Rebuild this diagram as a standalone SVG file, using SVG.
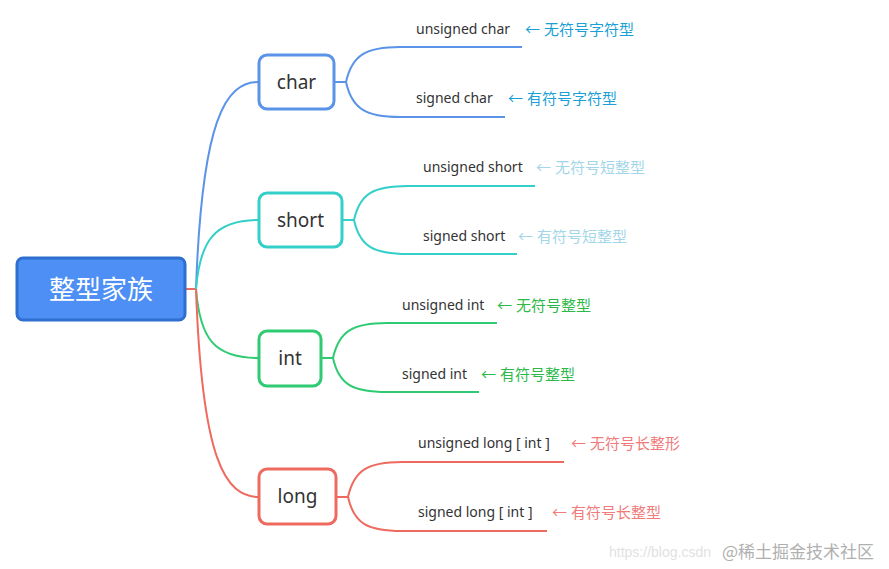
<svg xmlns="http://www.w3.org/2000/svg" width="889" height="569" viewBox="0 0 889 569">
<style>
.node{fill:#fff;stroke-width:3}
.lbl{font-family:"Noto Sans","Noto Sans CJK SC",sans-serif;font-size:19px;fill:#333;text-anchor:middle}
.leaf{font-family:"Noto Sans","Noto Sans CJK SC",sans-serif;font-size:14px;fill:#333}
.ann{font-family:"Noto Sans","Noto Sans CJK SC",sans-serif;font-size:15px}
.c{fill:none;stroke-width:2}
.blue{stroke:#5a93e8}.teal{stroke:#33cfc8}.green{stroke:#2fcb73}.red{stroke:#ee6a5e}
</style>
<rect width="889" height="569" fill="#fff"/>
<g id="connectors">
<path class="c red" d="M186,289 H197"/>
<path class="c blue" d="M196,289 C202,120 225,82 259,82"/>
<path class="c teal" d="M196,289 C200,240 215,220 259,220"/>
<path class="c green" d="M196,289 C200,340 215,358 259,358"/>
<path class="c red" d="M196,289 C202,460 225,497 259,497"/>
<path class="c blue" d="M334,82 H346 C352,55 366,47 400,47 H522"/>
<path class="c blue" d="M346,82 C352,109 366,117 400,117 H505"/>
<path class="c teal" d="M342,220 H354 C360,193 374,186 408,186 H535"/>
<path class="c teal" d="M354,220 C360,247 374,254 408,254 H517"/>
<path class="c green" d="M321,358 H333 C339,331 353,323 387,323 H497"/>
<path class="c green" d="M333,358 C339,385 353,392 387,392 H479"/>
<path class="c red" d="M336,497 H348 C354,470 368,462 402,462 H564"/>
<path class="c red" d="M348,497 C354,524 368,531 402,531 H547"/>
</g>
<g id="root">
<rect x="17" y="258" width="168" height="62" rx="6" fill="#4d8ff5" stroke="#2f6fd0" stroke-width="3"/>
<text x="101" y="299" font-family="Noto Sans CJK SC,sans-serif" font-size="26" fill="#fff" text-anchor="middle">整型家族</text>
</g>
<g id="char">
<rect class="node blue" x="259" y="55" width="75" height="54" rx="8"/>
<text class="lbl" x="296.5" y="89">char</text>
</g>
<g id="short">
<rect class="node teal" x="259" y="193" width="83" height="54" rx="8"/>
<text class="lbl" x="300.5" y="227">short</text>
</g>
<g id="int">
<rect class="node green" x="259" y="331" width="62" height="55" rx="8"/>
<text class="lbl" x="290" y="365">int</text>
</g>
<g id="long">
<rect class="node red" x="259" y="469" width="77" height="55" rx="8"/>
<text class="lbl" x="297.5" y="503">long</text>
</g>
<g id="leaf-unsigned-char"><text class="leaf" x="416" y="34">unsigned char</text><text class="ann" x="525" y="35" fill="#1a9fd6">← 无符号字符型</text></g>
<g id="leaf-signed-char"><text class="leaf" x="416" y="103">signed char</text><text class="ann" x="508" y="104" fill="#1a9fd6">← 有符号字符型</text></g>
<g id="leaf-unsigned-short"><text class="leaf" x="423" y="172">unsigned short</text><text class="ann" x="536" y="173" fill="#a3d6e8">← 无符号短整型</text></g>
<g id="leaf-signed-short"><text class="leaf" x="423" y="241">signed short</text><text class="ann" x="518" y="242" fill="#a3d6e8">← 有符号短整型</text></g>
<g id="leaf-unsigned-int"><text class="leaf" x="402" y="310">unsigned int</text><text class="ann" x="497" y="311" fill="#2eb84a">← 无符号整型</text></g>
<g id="leaf-signed-int"><text class="leaf" x="402" y="379">signed int</text><text class="ann" x="481" y="380" fill="#2eb84a">← 有符号整型</text></g>
<g id="leaf-unsigned-long"><text class="leaf" x="418" y="448">unsigned long [ int ]</text><text class="ann" x="571" y="449" fill="#ef7b7b">← 无符号长整形</text></g>
<g id="leaf-signed-long"><text class="leaf" x="418" y="517">signed long [ int ]</text><text class="ann" x="552" y="518" fill="#ef7b7b">← 有符号长整型</text></g>
<g id="watermark">
<text x="609" y="557" font-family="Liberation Sans,sans-serif" font-size="14" fill="#e2e2e2">https://blog.csdn</text>
<text x="722" y="558" font-family="Noto Sans CJK SC,sans-serif" font-size="17" fill="#b0b0b0">@稀土掘金技术社区</text>
</g>
</svg>
